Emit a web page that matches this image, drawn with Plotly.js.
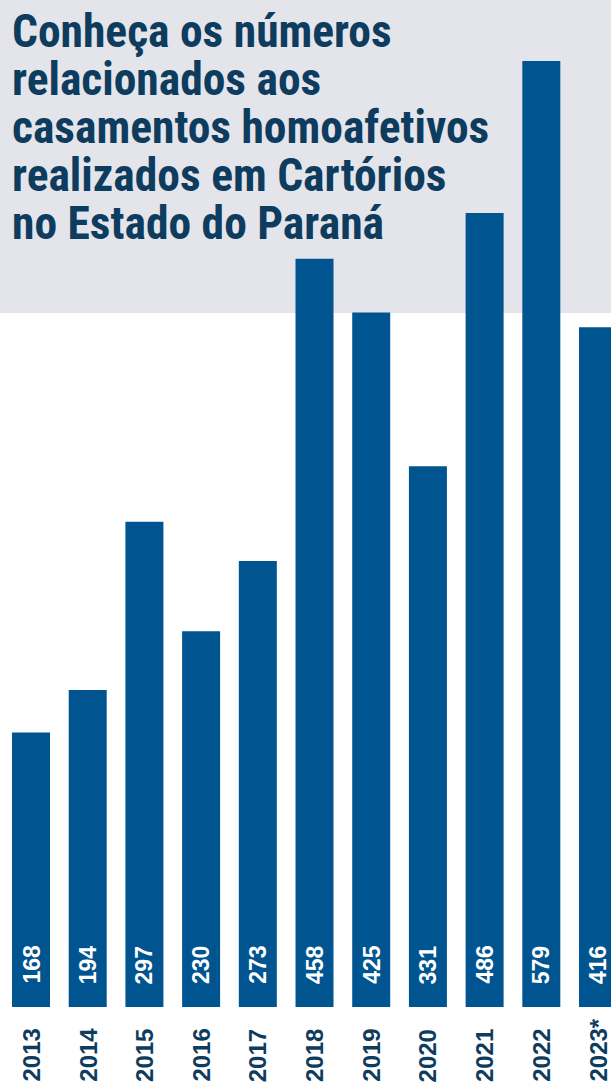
<!DOCTYPE html>
<html>
<head>
<meta charset="utf-8">
<script src="https://cdn.plot.ly/plotly-3.0.1.min.js"></script>
<style>
  html, body { margin: 0; padding: 0; background: #ffffff; }
  #chart { width: 611px; height: 1083px; }
</style>
</head>
<body>
<div id="chart"></div>
<script>
// ---- data ----
const years = ['2013', '2014', '2015', '2016', '2017', '2018', '2019', '2020', '2021', '2022', '2023*'];
const casamentos = [168, 194, 297, 230, 273, 458, 425, 331, 486, 579, 416];
const titleLines = [
  'Conheça os números',
  'relacionados aos',
  'casamentos homoafetivos',
  'realizados em Cartórios',
  'no Estado do Paraná'
];

// ---- style ----
const W = 611, H = 1083;
const marginB = 76;
const plotH = H - marginB;
const barColor = '#00548f';
const navy = '#0e3c5e';
const grayBg = '#e4e5eb';
const titleFont = '"Roboto Condensed", Roboto, sans-serif';
const numFont = '"Liberation Sans", Arial, sans-serif';

const titleCenters = [31, 79, 127, 175, 223]; // pixel centres of title lines
const annotations = [];
titleLines.forEach((t, i) => {
  annotations.push({
    text: t, xref: 'paper', yref: 'paper',
    x: 0, xshift: 10, xanchor: 'left',
    y: (plotH - titleCenters[i]) / plotH, yanchor: 'middle',
    showarrow: false,
    font: { family: titleFont, size: 45.5, color: navy, weight: 'bold', stretch: 'condensed' }
  });
});
casamentos.forEach((v, i) => {
  annotations.push({
    text: String(v), x: i, y: 0, xref: 'x', yref: 'y',
    xanchor: 'center', yanchor: 'bottom', yshift: 21,
    textangle: -90, showarrow: false,
    font: { family: numFont, size: 23, color: '#ffffff', weight: 'bold' }
  });
});
years.forEach((yr, i) => {
  annotations.push({
    text: yr, x: i, xref: 'x', yref: 'paper',
    y: -(H - plotH) / plotH, yanchor: 'bottom', yshift: -1,
    xanchor: 'center', textangle: -90, showarrow: false,
    font: { family: numFont, size: 24, color: navy, weight: 'bold' }
  });
});

const trace = {
  type: 'bar',
  x: years,
  y: casamentos,
  width: 0.67,
  marker: { color: barColor, line: { width: 0 } },
  hoverinfo: 'skip'
};

const layout = {
  width: W, height: H,
  margin: { l: 0, r: 0, t: 0, b: marginB, pad: 0 },
  paper_bgcolor: '#ffffff',
  plot_bgcolor: 'rgba(0,0,0,0)',
  showlegend: false,
  xaxis: {
    type: 'category',
    range: [-0.547, 10.229],
    showticklabels: false,
    ticks: '',
    showgrid: false, zeroline: false, showline: false,
    automargin: false
  },
  yaxis: {
    range: [0, 579 * plotH / 946],
    visible: false,
    automargin: false
  },
  shapes: [{
    type: 'rect', xref: 'paper', yref: 'paper',
    x0: 0, x1: 1, y0: (plotH - 313) / plotH, y1: 1,
    fillcolor: grayBg, line: { width: 0 }, layer: 'below'
  }],
  annotations: annotations
};

Plotly.newPlot('chart', [trace], layout, { displayModeBar: false, staticPlot: true });
</script>
</body>
</html>
